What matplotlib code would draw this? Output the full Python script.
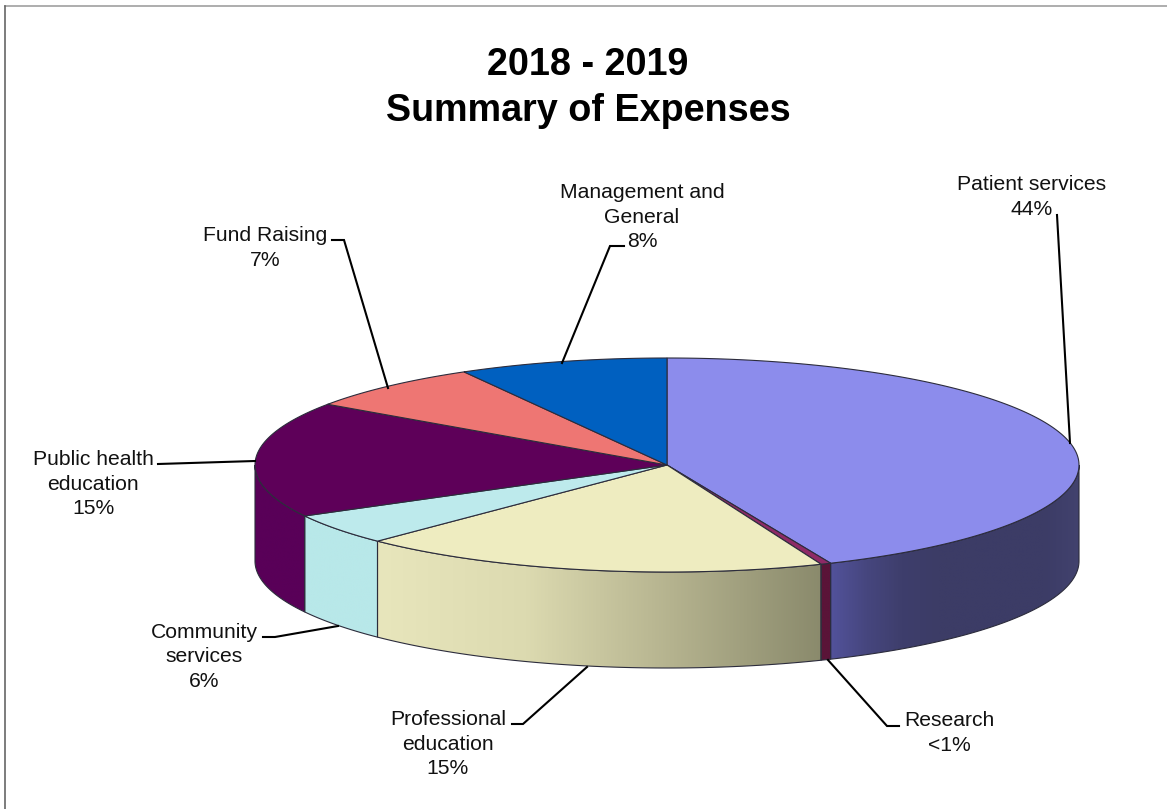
import numpy as np
import matplotlib
matplotlib.use('Agg')
import matplotlib.pyplot as plt
from matplotlib.colors import to_rgb
from matplotlib.patches import Polygon

plt.rcParams['font.family'] = ['Liberation Sans', 'DejaVu Sans']

title = '2018 - 2019\nSummary of Expenses'
names = ['Patient services', 'Research', 'Professional\neducation', 'Community\nservices',
         'Public health\neducation', 'Fund Raising', 'Management and\nGeneral']
printed = ['44%', '<1%', '15%', '6%', '15%', '7%', '8%']
# share of the circle each slice takes up in the drawing
shares = [43.5, 0.4, 18.5, 4.7, 17.5, 7.2, 8.2]

top_colors = ['#8c8cec', '#8e2a66', '#eeecc0', '#bdeaec', '#5e0059', '#ee7673', '#0060c0']
# side colours, left to right on screen
side_colors = [['#52529a', '#46467e', '#3e3e6c', '#3c3c66', '#3c3c66', '#3c3c66', '#3c3c66', '#42426e'],
               ['#5a1438', '#5a1438'],
               ['#e8e6bc', '#dcdab0', '#b4b28e', '#8a8a6c'],
               ['#b8e8e9', '#b8e8e9'],
               ['#590058', '#590058'],
               ['#d06060', '#d06060'],
               ['#0050a0', '#0050a0']]

label_pos = [(1032, 197), (949, 733), (448, 744), (204, 657), (93, 484), (265, 248), (642, 217)]
leaders = [[(1057, 215), (1070, 443)],
           [(899, 726), (887, 726), (828, 660)],
           [(512, 724), (523, 724), (587, 667)],
           [(263, 637), (275, 637), (338, 626)],
           [(158, 464), (255, 461)],
           [(332, 240), (344, 240), (388, 388)],
           [(624, 246), (610, 246), (562, 363)]]

cx, cy = 667, 465
rx, ry = 412, 107
depth = 96


def ell(t):
    return cx + rx * np.sin(t), cy - ry * np.cos(t)


fig = plt.figure(figsize=(11.67, 8.09), dpi=100)
ax = fig.add_axes([0, 0, 1, 1])

# only left and top of the frame show
ax.plot([5, 1167], [6, 6], color='#a0a0a0', lw=1.2)
ax.plot([5, 5], [809, 6], color='#666666', lw=1.2)

edges = np.radians(np.cumsum([0] + shares) * 3.6)

# sides first, only the front half of the pie has one
for i in range(len(shares)):
    a = max(edges[i], np.pi / 2)
    b = min(edges[i + 1], 3 * np.pi / 2)
    if b <= a:
        continue
    t = np.linspace(a, b, 80)
    x, y = ell(t)
    px = np.r_[x, x[::-1]]
    py = np.r_[y, y[::-1] + depth]
    poly = Polygon(np.c_[px, py], closed=True, fc='none', ec='#2c2c3c', lw=0.8, zorder=3)
    ax.add_patch(poly)
    stops = np.array([to_rgb(c) for c in side_colors[i]])
    pos = np.linspace(0, 1, len(stops))
    grad = np.stack([np.interp(np.linspace(0, 1, 256), pos, stops[:, c]) for c in range(3)], axis=-1)
    im = ax.imshow(grad[None, :, :], extent=[px.min(), px.max(), py.max(), py.min()],
                   aspect='auto', zorder=2, interpolation='bilinear')
    im.set_clip_path(poly)

# top of the pie
for i in range(len(shares)):
    t = np.linspace(edges[i], edges[i + 1], 200)
    x, y = ell(t)
    ax.add_patch(Polygon(np.c_[np.r_[cx, x], np.r_[cy, y]], closed=True, fc=top_colors[i],
                         ec='#2c2c3c', lw=0.8, zorder=4))

for line in leaders:
    xs, ys = zip(*line)
    ax.plot(xs, ys, color='black', lw=1.5, zorder=5, solid_joinstyle='miter')

for name, val, (lx, ly) in zip(names, printed, label_pos):
    ax.text(lx, ly, name + '\n' + val, ha='center', va='center', fontsize=15.2,
            linespacing=1.34, color='#111111', zorder=6)

ax.text(588, 88, title, ha='center', va='center', fontsize=27.2, fontweight='bold',
        linespacing=1.37, color='black')

ax.set_xlim(0, 1167)
ax.set_ylim(809, 0)
ax.axis('off')

fig.savefig('out.png', dpi=100)
